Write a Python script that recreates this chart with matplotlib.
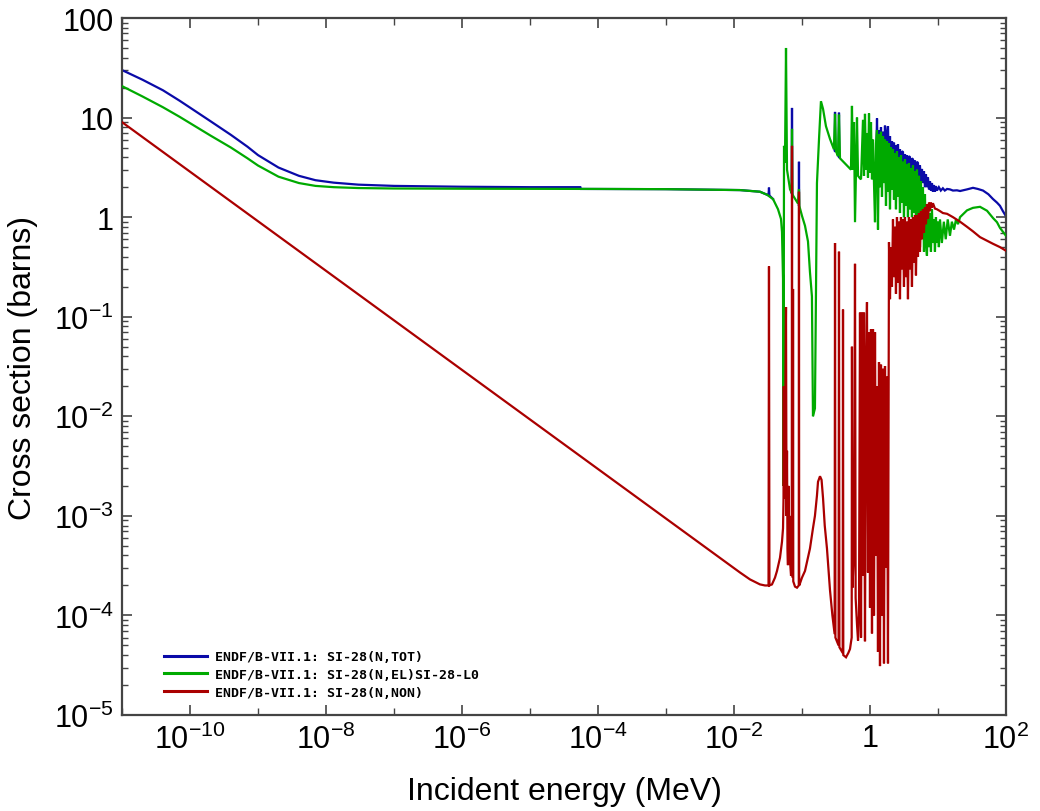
import numpy as np
import matplotlib
matplotlib.use("Agg")
import matplotlib.pyplot as plt
from matplotlib.ticker import FixedLocator, FixedFormatter, LogLocator, NullFormatter

# ---- data: (energy MeV, cross section barns) ----
tot_points = [
    (1e-11, 30.0), (2e-11, 24.0), (4e-11, 18.8), (7e-11, 14.8), (1e-10, 12.6), (2e-10, 9.2),
    (4e-10, 6.7), (7e-10, 5.1), (1e-9, 4.2), (2e-9, 3.15), (4e-9, 2.6), (7e-9, 2.35),
    (1.3e-8, 2.22), (3e-8, 2.12), (1e-7, 2.06), (1e-6, 2.02), (1e-5, 2.0),
    (5.5e-5, 2.0), (5.6e-5, 1.92), (1e-3, 1.91), (0.01225, 1.87), (0.0241, 1.80),
    (0.0306, 1.68), (0.0322, 1.66), (0.0327, 1.98), (0.0332, 1.65), (0.0375, 1.52),
    (None, None),
    (0.0705, 1.75), (0.0713, 12.5), (0.0721, 1.72),
    (None, None),
    (0.0897, 1.33), (0.0903, 3.6), (0.0909, 1.3),
    (None, None),
    (0.302, 4.7), (0.306, 11.4), (0.310, 4.6),
    (None, None),
    (0.345, 4.1), (0.350, 11.2), (0.355, 4.0),
    (None, None),
    (1.185, 2.5), (1.225, 3.0), (1.268, 9.8), (1.311, 2.5), (1.356, 7.5), (1.403, 3.0),
    (1.451, 8.0), (1.501, 2.8), (1.553, 7.2), (1.606, 3.0), (1.662, 8.3), (1.719, 2.8),
    (1.778, 7.0), (1.839, 8.2), (1.902, 3.0), (1.968, 6.5), (2.035, 2.8), (2.105, 5.8),
    (2.178, 3.0), (2.253, 5.6), (2.330, 2.8), (2.410, 5.3), (2.493, 3.0), (2.579, 5.4),
    (2.668, 2.8), (2.760, 4.8), (2.855, 2.9), (2.953, 4.6), (3.055, 4.5), (3.160, 2.8),
    (3.268, 4.3), (3.381, 2.7), (3.497, 4.2), (3.618, 2.6), (3.742, 4.1), (3.871, 4.0),
    (4.004, 2.6), (4.142, 3.9), (4.285, 3.8), (4.432, 2.5), (4.585, 3.7), (4.743, 2.5),
    (4.906, 3.6), (5.075, 3.5), (5.250, 2.3), (5.43, 3.3), (5.62, 2.2), (5.81, 3.05),
    (6.01, 2.2), (6.22, 2.9), (6.43, 2.0), (6.65, 2.7), (6.88, 2.0), (7.12, 2.5),
    (7.37, 1.9), (7.62, 2.3), (7.88, 1.85), (8.15, 2.2), (8.43, 1.8), (8.72, 2.1),
    (9.02, 1.8), (9.33, 2.05), (9.66, 1.85), (10.3, 2.0), (11.0, 1.85), (11.8, 1.95),
    (12.6, 1.85), (13.6, 1.92), (15.0, 1.9), (16.6, 1.85), (19.0, 1.86), (21.1, 1.83),
    (26.7, 1.9), (32.7, 1.97), (38.5, 1.92), (45.9, 1.85), (55.0, 1.7), (64.4, 1.52),
    (73.7, 1.4), (81.6, 1.3), (90.0, 1.15), (100.0, 1.02),
]

el_points = [
    (1e-11, 20.7), (2e-11, 16.3), (4e-11, 12.7), (7e-11, 10.2), (1e-10, 8.8), (2e-10, 6.6),
    (4e-10, 5.0), (7e-10, 3.9), (1e-9, 3.3), (2e-9, 2.55), (4e-9, 2.2), (7e-9, 2.06),
    (1.3e-8, 2.0), (3e-8, 1.96), (1e-7, 1.94), (1e-6, 1.93), (1e-4, 1.92), (1e-3, 1.91),
    (0.01225, 1.87), (0.0241, 1.80), (0.0306, 1.68), (0.0375, 1.52), (0.0444, 1.20),
    (0.0491, 0.96), (0.0508, 0.71), (0.0526, 0.24), (0.0535, 0.002), (0.0544, 5.2),
    (0.0562, 3.5), (0.0582, 50.0), (0.0602, 3.0), (0.0622, 2.6), (0.0667, 1.9),
    (0.0705, 1.76), (0.0713, 7.7), (0.0721, 1.73), (0.0738, 1.65), (0.0873, 1.37),
    (0.0903, 1.9), (0.0913, 1.3), (0.100, 1.03), (0.1107, 0.82), (0.1225, 0.57),
    (0.131, 0.28), (0.140, 0.16), (0.145, 0.010), (0.155, 0.012), (0.161, 0.25),
    (0.166, 2.2), (0.178, 6.1), (0.190, 14.6), (0.204, 12.2), (0.225, 8.2), (0.258, 6.1),
    (0.295, 4.8), (0.306, 10.9), (0.316, 4.6), (0.338, 4.1), (0.350, 10.7), (0.362, 3.9),
    (0.459, 3.3), (0.525, 3.0), (0.543, 13.1), (0.562, 3.0), (0.582, 9.0), (0.602, 0.89),
    (0.622, 2.8), (0.644, 10.0), (0.667, 2.6), (0.713, 2.45), (0.738, 2.4),
    (0.789, 9.5), (0.816, 2.6), (0.844, 10.9), (0.873, 3.0), (0.903, 7.0), (0.934, 2.5),
    (0.967, 11.0), (1.0, 2.8), (1.034, 9.0), (1.070, 2.4), (1.107, 6.0), (1.145, 2.2),
    (1.185, 0.89), (1.225, 5.5), (1.268, 7.5), (1.311, 0.75), (1.356, 6.8), (1.403, 2.0),
    (1.451, 7.2), (1.501, 1.6), (1.553, 6.5), (1.606, 2.2), (1.662, 6.0), (1.719, 1.3),
    (1.778, 5.8), (1.839, 1.8), (1.902, 5.5), (1.968, 1.2), (2.035, 5.0), (2.105, 1.9),
    (2.178, 4.8), (2.253, 1.5), (2.330, 4.4), (2.410, 1.2), (2.493, 4.6), (2.579, 1.6),
    (2.668, 4.0), (2.760, 1.1), (2.855, 4.2), (2.953, 1.4), (3.055, 3.6), (3.160, 1.0),
    (3.268, 3.8), (3.381, 1.3), (3.497, 3.4), (3.618, 1.0), (3.742, 3.5), (3.871, 1.2),
    (4.004, 3.1), (4.142, 1.0), (4.285, 3.3), (4.432, 1.1), (4.585, 2.9), (4.743, 0.9),
    (4.906, 3.0), (5.075, 0.6), (5.250, 2.6), (5.43, 0.5), (5.62, 2.3), (5.81, 0.65),
    (6.01, 2.0), (6.22, 0.45), (6.43, 1.7), (6.65, 0.55), (6.88, 0.41), (7.12, 1.3),
    (7.37, 0.5), (7.62, 1.1), (7.88, 0.45), (8.15, 1.2), (8.43, 0.55), (8.72, 0.95),
    (9.02, 0.45), (9.33, 1.0), (9.66, 0.55), (9.99, 0.9), (10.3, 0.5), (10.7, 0.95),
    (11.4, 0.55), (12.2, 0.9), (13.0, 0.6), (13.9, 0.95), (15.0, 0.65), (16.0, 0.9),
    (17.2, 0.75), (18.4, 0.95), (19.7, 0.85), (21.1, 1.0), (23.3, 1.07), (26.7, 1.17),
    (32.7, 1.24), (41.5, 1.27), (52.6, 1.16), (64.4, 0.98), (73.7, 0.89), (81.6, 0.78),
    (100.0, 0.65),
]

non_points = [
    (1e-11, 9.0), (0.01225, 2.7e-4), (0.0172, 2.3e-4), (0.0241, 2.05e-4), (0.0286, 2.0e-4),
    (0.0322, 2.0e-4), (0.0327, 0.32), (0.0332, 2.0e-4), (0.0362, 2.05e-4), (0.0401, 2.4e-4),
    (0.0429, 2.8e-4), (0.0475, 3.8e-4), (0.0508, 5.5e-4), (0.0526, 7.5e-4), (0.0535, 1.5e-3),
    (0.0540, 0.02), (0.0544, 2e-3), (0.0553, 6e-3), (0.0562, 1.5e-3), (0.0572, 0.03),
    (0.0582, 0.125), (0.0592, 1e-3), (0.0602, 4.5e-3), (0.0612, 4.7e-4), (0.0622, 3.2e-4),
    (0.0633, 2e-3), (0.0644, 6e-4), (0.0655, 1e-3), (0.0667, 3.5e-4), (0.0690, 2.5e-4),
    (0.0707, 3e-4), (0.0713, 5.2), (0.0719, 2.6e-4), (0.0733, 2.4e-4), (0.0738, 0.19),
    (0.0744, 2.2e-4), (0.0789, 1.95e-4), (0.0844, 1.9e-4), (0.0897, 2.0e-4), (0.0903, 1.8),
    (0.0909, 2.0e-4), (0.0935, 2.1e-4), (0.100, 2.4e-4), (0.1107, 2.8e-4), (0.1225, 3.8e-4),
    (0.131, 4.7e-4), (0.145, 7.5e-4), (0.155, 1.0e-3), (0.166, 1.6e-3), (0.172, 2.2e-3),
    (0.184, 2.5e-3), (0.194, 2.3e-3), (0.204, 1.5e-3), (0.216, 8e-4), (0.225, 6e-4),
    (0.233, 4.7e-4), (0.258, 1.8e-4), (0.280, 1.0e-4), (0.302, 6.5e-5), (0.306, 0.55),
    (0.310, 6.0e-5), (0.345, 5.0e-5), (0.350, 0.45), (0.355, 4.8e-5), (0.397, 4.2e-5),
    (0.401, 0.118), (0.405, 4.0e-5), (0.444, 3.8e-5), (0.480, 4.2e-5), (0.508, 4.6e-5),
    (0.538, 6e-5), (0.543, 0.05), (0.552, 1.9e-4), (0.585, 5e-4), (0.602, 0.34),
    (0.615, 1.5e-4), (0.645, 8e-5), (0.667, 5.6e-5), (0.689, 1e-4), (0.713, 0.11),
    (0.738, 6e-5), (0.763, 0.11), (0.789, 2.5e-4), (0.816, 0.11), (0.844, 5.5e-5),
    (0.873, 0.03), (0.903, 0.14), (0.934, 2.7e-4), (0.967, 0.07), (1.0, 1.2e-4),
    (1.034, 0.075), (1.070, 6.6e-5), (1.107, 0.075), (1.145, 1e-4), (1.185, 0.07),
    (1.225, 4e-4), (1.268, 0.02), (1.311, 4.3e-5), (1.356, 0.035), (1.403, 3.1e-5),
    (1.451, 0.033), (1.501, 1e-4), (1.553, 0.03), (1.606, 3.3e-5), (1.662, 0.032),
    (1.719, 3e-4), (1.778, 0.025), (1.839, 3.3e-5), (1.902, 0.56), (1.968, 0.15),
    (2.035, 0.5), (2.105, 0.2), (2.178, 0.95), (2.253, 0.25), (2.330, 0.8), (2.410, 0.17),
    (2.493, 1.0), (2.579, 0.22), (2.668, 0.9), (2.760, 0.15), (2.855, 1.0), (2.953, 0.3),
    (3.055, 0.95), (3.160, 0.2), (3.268, 1.0), (3.381, 0.25), (3.497, 0.9), (3.618, 0.15),
    (3.742, 1.0), (3.871, 0.3), (4.004, 0.95), (4.142, 0.2), (4.285, 1.0), (4.432, 0.35),
    (4.585, 1.05), (4.743, 0.26), (4.906, 1.05), (5.075, 0.4), (5.250, 1.1), (5.43, 0.45),
    (5.62, 1.15), (5.81, 0.6), (6.01, 1.2), (6.22, 0.7), (6.43, 1.25), (6.65, 0.85),
    (6.88, 1.35), (7.12, 0.97), (7.37, 1.4), (7.62, 1.15), (7.88, 1.4), (8.15, 1.25),
    (8.43, 1.38), (9.02, 1.22), (9.66, 1.2), (10.7, 1.15), (11.8, 1.1), (13.6, 1.08),
    (16.6, 1.0), (21.1, 0.9), (26.7, 0.8), (32.7, 0.72), (41.5, 0.63), (52.6, 0.58),
    (64.4, 0.54), (81.6, 0.5), (100.0, 0.46),
]

labels = ["ENDF/B-VII.1: SI-28(N,TOT)",
          "ENDF/B-VII.1: SI-28(N,EL)SI-28-L0",
          "ENDF/B-VII.1: SI-28(N,NON)"]
colors = ["#0a0aa8", "#00aa00", "#aa0000"]

x_ticks = [1e-10, 1e-8, 1e-6, 1e-4, 1e-2, 1, 1e2]
x_ticklabels = ["10$^{-10}$", "10$^{-8}$", "10$^{-6}$", "10$^{-4}$", "10$^{-2}$", "1", "10$^{2}$"]
x_minor = [1e-11, 1e-9, 1e-7, 1e-5, 1e-3, 1e-1, 1e1]
y_ticks = [1e-5, 1e-4, 1e-3, 1e-2, 1e-1, 1, 10, 100]
y_ticklabels = ["10$^{-5}$", "10$^{-4}$", "10$^{-3}$", "10$^{-2}$", "10$^{-1}$", "1", "10", "100"]


def to_xy(points):
    arr = np.array([(np.nan, np.nan) if p[0] is None else p for p in points], dtype=float)
    return arr[:, 0], arr[:, 1]


plt.rcParams["font.family"] = ["Liberation Sans", "DejaVu Sans"]
plt.rcParams["mathtext.fontset"] = "custom"
plt.rcParams["mathtext.rm"] = "Liberation Sans"
plt.rcParams["mathtext.it"] = "Liberation Sans"

fig = plt.figure(figsize=(10.4, 8.12), dpi=100)
ax = fig.add_axes([0.1173, 0.1182, 0.85, 0.8584])

for pts, lab, col, z in zip([tot_points, el_points, non_points], labels, colors, [2, 3, 4]):
    x, y = to_xy(pts)
    ax.plot(x, y, color=col, lw=1.6, label=lab, zorder=z, solid_joinstyle="miter")

ax.set_xscale("log")
ax.set_yscale("log")
ax.set_xlim(1e-11, 1e2)
ax.set_ylim(1e-5, 1e2)

ax.xaxis.set_major_locator(FixedLocator(x_ticks))
ax.xaxis.set_major_formatter(FixedFormatter(x_ticklabels))
ax.xaxis.set_minor_locator(FixedLocator(x_minor))
ax.xaxis.set_minor_formatter(NullFormatter())
ax.yaxis.set_major_locator(FixedLocator(y_ticks))
ax.yaxis.set_major_formatter(FixedFormatter(y_ticklabels))
ax.yaxis.set_minor_locator(LogLocator(base=10, subs=np.arange(2, 10)))
ax.yaxis.set_minor_formatter(NullFormatter())

ax.tick_params(which="both", direction="in", top=True, right=True, color="#444444")
ax.tick_params(which="major", length=7, width=1.2, labelsize=22, pad=6)
ax.tick_params(which="minor", length=4, width=1.0)
ax.tick_params(axis="x", which="minor", length=5)
for s in ax.spines.values():
    s.set_linewidth(1.6)
    s.set_color("#444444")

ax.set_xlabel("Incident energy (MeV)", fontsize=23)
ax.set_ylabel("Cross section (barns)", fontsize=23)
ax.xaxis.set_label_coords(0.5, -0.087)
ax.yaxis.set_label_coords(-0.095, 0.5)

leg = ax.legend(loc="lower left", bbox_to_anchor=(0.041, 0.016), frameon=False,
                prop={"family": "DejaVu Sans Mono", "weight": "bold", "size": 9.5},
                handlelength=3.3, handletextpad=0.6, labelspacing=0.35, borderaxespad=0)
for line in leg.get_lines():
    line.set_linewidth(2.2)

fig.savefig("out.png", dpi=100)
